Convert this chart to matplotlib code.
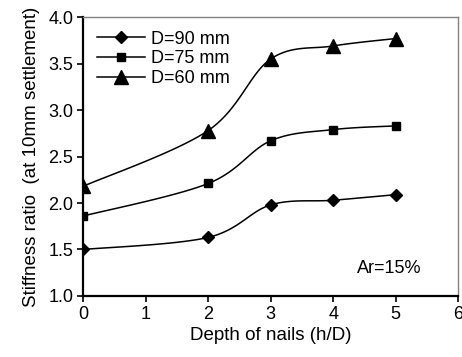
import numpy as np
import matplotlib
matplotlib.use('Agg')
import matplotlib.pyplot as plt

plt.rcParams['font.family'] = ['Liberation Sans', 'DejaVu Sans']

# depth of nails h/D
depth = [0, 2, 3, 4, 5]
d90 = [1.50, 1.63, 1.98, 2.03, 2.09]
d75 = [1.86, 2.21, 2.67, 2.79, 2.83]
d60 = [2.18, 2.78, 3.55, 3.69, 3.77]

series = [('D=90 mm', d90, 'D', 6.5),
          ('D=75 mm', d75, 's', 6.3),
          ('D=60 mm', d60, '^', 9.5)]


def smooth(x, y, n=20, t=0.5):
    # excel-like smoothed line (cardinal spline through the points)
    x = np.asarray(x, float)
    y = np.asarray(y, float)
    px = np.concatenate([[x[0]], x, [x[-1]]])
    py = np.concatenate([[y[0]], y, [y[-1]]])
    xs, ys = [], []
    for i in range(1, len(px) - 2):
        s = np.linspace(0, 1, n)
        h00 = 2 * s**3 - 3 * s**2 + 1
        h10 = s**3 - 2 * s**2 + s
        h01 = -2 * s**3 + 3 * s**2
        h11 = s**3 - s**2
        mx0 = t * (px[i + 1] - px[i - 1])
        mx1 = t * (px[i + 2] - px[i])
        my0 = t * (py[i + 1] - py[i - 1])
        my1 = t * (py[i + 2] - py[i])
        xs.extend(h00 * px[i] + h10 * mx0 + h01 * px[i + 1] + h11 * mx1)
        ys.extend(h00 * py[i] + h10 * my0 + h01 * py[i + 1] + h11 * my1)
    return xs, ys


fig = plt.figure(figsize=(4.62, 3.57), dpi=100)
ax = fig.add_axes([0.180, 0.171, 0.812, 0.781])

for label, vals, mk, ms in series:
    sx, sy = smooth(depth, vals)
    ax.plot(sx, sy, color='black', lw=1.1, zorder=2)
    ax.plot(depth, vals, linestyle='none', marker=mk, ms=ms, color='black', zorder=3)
    ax.plot([], [], color='black', lw=1.1, marker=mk, ms=ms, label=label)

ax.set_xlim(0, 6)
ax.set_ylim(1.0, 4.0)
ax.set_xticks(range(0, 7))
ax.set_yticks(np.arange(1.0, 4.01, 0.5))
ax.set_yticklabels(['%.1f' % v for v in np.arange(1.0, 4.01, 0.5)])
ax.tick_params(labelsize=13, length=4, width=1.2, direction='out', pad=3)

for side in ['top', 'right']:
    ax.spines[side].set_color('#808080')
    ax.spines[side].set_linewidth(1)
for side in ['left', 'bottom']:
    ax.spines[side].set_color('black')
    ax.spines[side].set_linewidth(1.6)

ax.set_xlabel('Depth of nails (h/D)', fontsize=13.5, labelpad=3)
ax.set_ylabel('Stiffness ratio  (at 10mm settlement)', fontsize=13.5, labelpad=6)
ax.text(4.9, 1.3, 'Ar=15%', fontsize=13, ha='center', va='center')

ax.legend(loc='upper left', bbox_to_anchor=(0.0, 1.0), frameon=False, fontsize=13,
          handlelength=2.7, handletextpad=0.3, labelspacing=0.15, borderaxespad=0.35)

plt.savefig('out.png', dpi=100)
